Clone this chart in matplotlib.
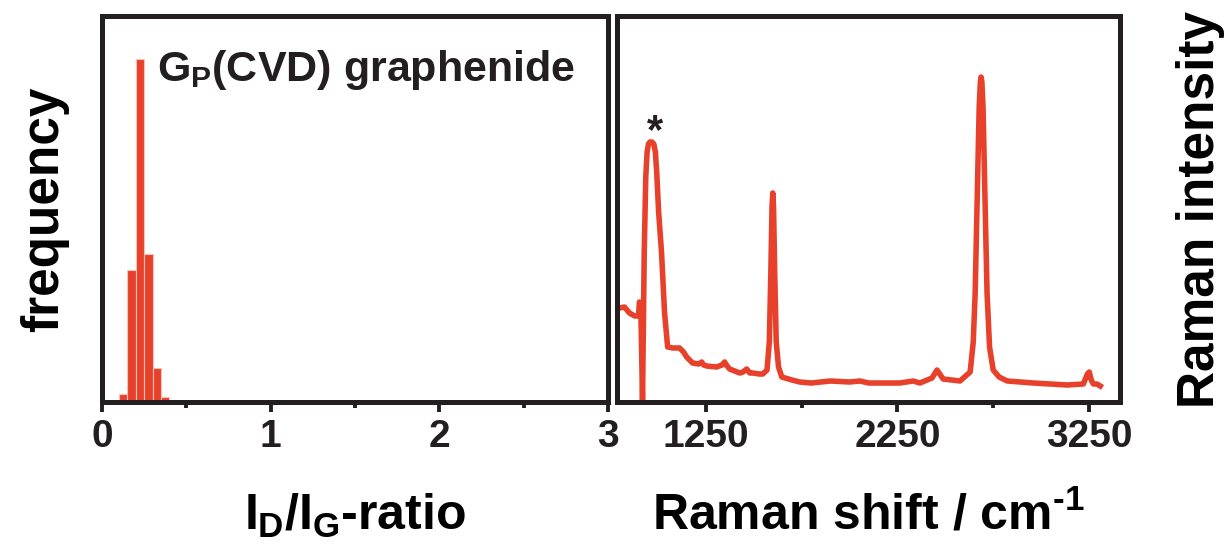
import numpy as np
import matplotlib
matplotlib.use('Agg')
import matplotlib.pyplot as plt
from matplotlib.ticker import FixedLocator

# Histograma I_D/I_G
bin_left = [0.10, 0.15, 0.20, 0.25, 0.30, 0.35]
bin_width = 0.05
freq = [2.3, 38.5, 100, 43, 10, 1.5]

# Espectro Raman (cm^-1, intensidad arbitraria)
shift = [801, 827, 853, 880, 900, 905, 912, 921, 930, 938, 945, 952, 960, 970,
         980, 988, 995, 1005, 1020, 1036, 1052, 1080, 1114, 1135, 1151, 1182,
         1215, 1229, 1240, 1255, 1307, 1335, 1349, 1362, 1375, 1428, 1445, 1464,
         1480, 1495, 1530, 1548, 1570, 1582, 1590, 1596, 1600, 1604, 1610, 1618,
         1630, 1647, 1700, 1741, 1800, 1900, 2000, 2054, 2100, 2200, 2263, 2331,
         2367, 2430, 2456, 2488, 2576, 2629, 2645, 2655, 2663, 2670, 2676, 2682,
         2686, 2690, 2696, 2702, 2710, 2717, 2730, 2749, 2780, 2822, 2958, 3135,
         3219, 3240, 3250, 3260, 3271, 3290, 3307]
intensity = [94, 95, 89, 86, 86, 100, 95, 2, 150, 225, 250, 258, 260, 260,
             258, 250, 230, 190, 150, 89, 55, 54, 54, 50, 45, 39,
             38, 40, 37, 36, 35, 37, 40, 36, 33, 29, 30, 33,
             29, 29, 28, 28, 32, 60, 130, 195, 209, 195, 130, 60,
             35, 25, 22, 20, 19, 21, 20, 21, 19, 19, 19, 21,
             19, 24, 32, 23, 21, 30, 60, 109, 180, 242, 295, 320,
             325, 320, 295, 242, 170, 109, 55, 32, 25, 21, 19, 17,
             18, 28, 30, 22, 18, 18, 16]

left_ticks = [0, 1, 2, 3]
left_minor = [0.5, 1.5, 2.5]
right_ticks = [1250, 2250, 3250]
right_minor = [1750, 2750]

red = '#e8412b'
ink = '#231f20'

plt.rcParams['font.family'] = ['Liberation Sans', 'DejaVu Sans']
plt.rcParams['font.weight'] = 'bold'
plt.rcParams['mathtext.fontset'] = 'custom'
plt.rcParams['mathtext.rm'] = 'Liberation Sans:bold'
plt.rcParams['mathtext.it'] = 'Liberation Sans:bold'
plt.rcParams['mathtext.bf'] = 'Liberation Sans:bold'
plt.rcParams['text.color'] = ink

fig = plt.figure(figsize=(12.28, 5.49), dpi=100)
ax1 = fig.add_axes([102 / 1228, 147 / 549, 506 / 1228, 386 / 549])
ax2 = fig.add_axes([617 / 1228, 147 / 549, 503 / 1228, 386 / 549])

for ax in (ax1, ax2):
    for sp in ax.spines.values():
        sp.set_linewidth(3.6)
        sp.set_color(ink)
    ax.set_yticks([])
    ax.tick_params(axis='x', which='major', direction='out', length=7.5,
                   width=2.8, color=ink, labelsize=28, labelcolor=ink, pad=5)
    ax.tick_params(axis='x', which='minor', direction='out', length=4.5,
                   width=2.8, color=ink)

# Panel izquierdo: histograma
ax1.bar(bin_left, freq, width=bin_width, align='edge', color=red,
        edgecolor='#f6c2b6', linewidth=0.8)
ax1.set_xlim(0, 3)
ax1.set_ylim(0, 112.5)
ax1.set_xticks(left_ticks)
ax1.xaxis.set_minor_locator(FixedLocator(left_minor))
ax1.set_xticklabels([str(t) for t in left_ticks], fontweight='bold')
ax1.set_xlabel(r'$I_D/I_G$-ratio', fontsize=36, fontweight='bold', labelpad=26)
ax1.set_ylabel('frequency', fontsize=37, fontweight='bold', labelpad=24)
ax1.text(0.108, 0.86, r'$G_P$(CVD) graphenide', transform=ax1.transAxes,
         fontsize=31, fontweight='bold', va='center', ha='left')

# Panel derecho: espectro Raman
ax2.plot(shift, intensity, color=red, linewidth=4, solid_joinstyle='round')
ax2.set_xlim(788, 3410)
ax2.set_ylim(0, 386)
ax2.set_xticks(right_ticks)
ax2.xaxis.set_minor_locator(FixedLocator(right_minor))
ax2.set_xticklabels([str(t) for t in right_ticks], fontweight='bold')
ax2.set_xlabel(r'Raman shift / cm$^{\text{-1}}$', fontsize=36,
               fontweight='bold', labelpad=26)
ax2.yaxis.set_label_position('right')
ax2.set_ylabel('Raman intensity', fontsize=37, fontweight='bold', labelpad=40)
ax2.text(984, 270, '*', fontsize=30, fontweight='bold', ha='center',
         va='center')

fig.savefig('out.png', dpi=100)
